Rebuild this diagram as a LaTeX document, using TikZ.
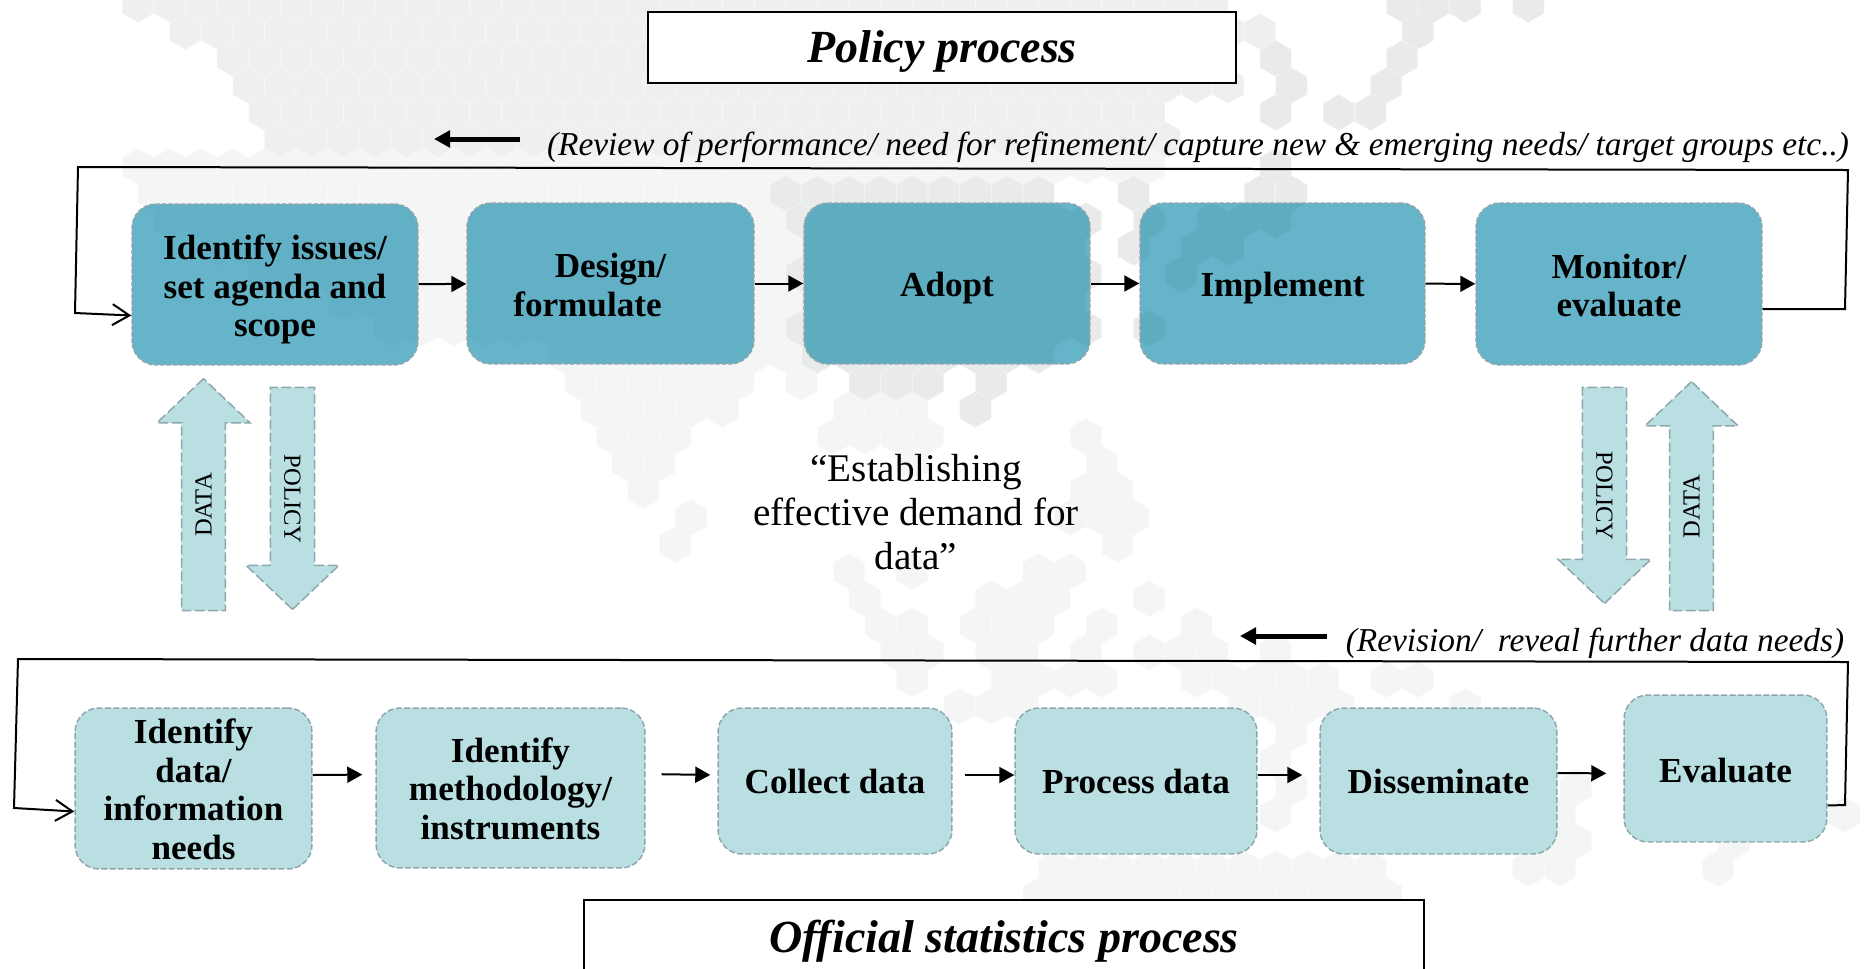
\documentclass[tikz,border=0pt]{standalone}
\usepackage{fontspec}
\setmainfont{Liberation Serif}
\usepackage{xcolor}
\usetikzlibrary{shapes,shapes.arrows,arrows.meta,calc,positioning}

\definecolor{hexdark}{HTML}{E9EBEA}
\definecolor{hexmid}{HTML}{EEF0EF}
\definecolor{hexpale}{HTML}{F4F5F5}
\definecolor{policyblue}{HTML}{0082A5}
\definecolor{statsblue}{HTML}{B9DFE2}
\definecolor{dashgrey}{HTML}{8DA7AC}

% one row/columns list of background cells
\newcommand{\hexrows}[2]{%
	\foreach \r/\cols in {#2} {
		\foreach \c in \cols {
			\pgfmathsetmacro{\hx}{138+31.6*\c+15.8*mod(\r,2)}
			\pgfmathsetmacro{\hy}{4.5+27*\r}
			\filldraw[fill=#1,draw=#1!45!white,line width=.2pt] (\hx,\hy-18) -- ++(15.6,9) -- ++(0,18) -- ++(-15.6,9) -- ++(-15.6,-9) -- ++(0,-18) -- cycle;
		}
	}%
}

\begin{document}
\begin{tikzpicture}[x=0.02cm,y=-0.02cm,arrow/.style = {line width=.04cm,-{Triangle[length=.3cm,width=.32cm]}}]
		\tikzset{lowered/.style={execute at begin node={\rule{0pt}{#1}}}}
		\tikzset{topbox/.style={draw=dashgrey,dash pattern=on 2.6pt off 1pt,line width=.03cm,rounded corners=.48cm,inner sep=0pt,align=center,fill=policyblue,fill opacity=.6,text opacity=1,font=\bfseries\fontsize{20}{21.9}\selectfont}}
		\tikzset{statbox/.style={draw=dashgrey,dash pattern=on 3.4pt off 1.4pt,line width=.03cm,rounded corners=.48cm,inner sep=0pt,align=center,fill=statsblue,font=\bfseries\fontsize{20}{21.9}\selectfont}}
		\tikzset{titlebox/.style={draw=black,line width=.04cm,inner sep=0pt,fill=white,font=\bfseries\itshape\fontsize{26.2}{30}\selectfont}}
		\tikzset{blockarrow/.style={single arrow,draw=dashgrey,dash pattern=on 5.5pt off 2pt,line width=.03cm,fill=statsblue,inner sep=0pt,minimum width=1.86cm,single arrow head extend=.2cm,single arrow tip angle=93,font=\fontsize{14}{16}\selectfont}}
		\tikzset{backline/.style={line width=.04cm,-{Straight Barb[length=.34cm,width=.42cm]}}}
		\tikzset{pointer/.style={line width=.1cm,-{Triangle[length=.32cm,width=.33cm]}}}
		\tikzset{remark/.style={inner sep=0pt,font=\itshape\fontsize{19}{22}\selectfont}}

		\path[use as bounding box,clip] (0,0) rectangle (1864,968);

		% Background cells
		\hexrows{hexmid}{0/{0,...,34},1/{1,...,35},2/{3,...,34},3/{3,...,34},4/{4,...,32},5/{4,...,32}}
		\hexrows{hexpale}{6/{0,...,32},7/{0,...,19},8/{1,...,20},9/{2,...,20},10/{4,...,20},11/{6,...,20},12/{8,...,20},13/{13,...,20},14/{14,...,19,21},15/{14,...,18,22,23,24},16/{15,16,17,22,23,24,25,30},17/{15,16,24,30},18/{16,30,31},19/{17,29,30,31},20/{17,31},21/{22,24,28,29},22/{23,27,28,29,32},23/{23,24,26,27,28,30,33},24/{24,25,27,28,30,32,33,34,36},25/{24,27,28,29,30,33,34,35,36,37,39,40},26/{26,27,28,35,36,37,38,42},27/{36},28/{36},29/{36,45},30/{36,45,54},31/{44,45,50},32/{29,...,39,44,45,50},33/{28,...,39},34/{28,...,40},35/{28,...,39},36/{28,...,40}}
		\hexrows{hexdark}{0/{40,41,42,44},1/{40},2/{36,40},3/{36,39},4/{36,38,39},6/{36},7/{20,...,28,31,35,36},8/{21,...,30,32,34,35,36},9/{21,...,29,31,33,34},10/{21,...,30,33},11/{21,...,29},12/{21,...,30,32},13/{21,...,28},14/{23,24,25,27},15/{26}}

		% Titles
		\node[titlebox,lowered=23.2pt,minimum width=11.76cm,minimum height=1.42cm] (policytitle) at (942,47.5) {Policy process};
		\node[titlebox,lowered=21.8pt,minimum width=16.8cm,minimum height=1.52cm] (statstitle) at (1004,938) {Official statistics process};

		% Policy boxes
		\node[topbox,minimum width=5.72cm,minimum height=3.22cm] (identifyissues) at (275,284.5) {\rule{0pt}{20pt}Identify issues/\\set agenda and\\scope};
		\node[topbox,minimum width=5.74cm,minimum height=3.22cm] (designform) at (610.5,283.5) {\rule{0pt}{15.6pt}Design/\\formulate\hspace*{.92cm}};
		\node[topbox,lowered=19pt,minimum width=5.72cm,minimum height=3.22cm] (adopt) at (947,283.5) {Adopt};
		\node[topbox,lowered=19pt,minimum width=5.7cm,minimum height=3.22cm] (implement) at (1282.5,283.5) {Implement};
		\node[topbox,minimum width=5.72cm,minimum height=3.24cm] (monitor) at (1619,284) {\rule{0pt}{15.6pt}Monitor/\\evaluate};

		% Statistics boxes
		\node[statbox,minimum width=4.74cm,minimum height=3.22cm] (identifydata) at (193.5,788.5) {\rule{0pt}{15pt}Identify\\data/\\information\\needs};
		\node[statbox,minimum width=5.38cm,minimum height=3.2cm] (identifymethod) at (510.5,788) {\rule{0pt}{14.5pt}Identify\\methodology/\\instruments};
		\node[statbox,minimum width=4.68cm,minimum height=2.92cm] (collect) at (835,781) {Collect data};
		\node[statbox,minimum width=4.84cm,minimum height=2.92cm] (process) at (1136,781) {Process data};
		\node[statbox,minimum width=4.74cm,minimum height=2.92cm] (disseminate) at (1438.5,781) {Disseminate};
		\node[statbox,lowered=16.4pt,minimum width=4.06cm,minimum height=2.94cm] (evaluate) at (1725.5,768.5) {Evaluate};

		% Block arrows
		\node[blockarrow,rotate=90,minimum height=4.64cm] (dataleft) at (203.5,505) {DATA};
		\node[blockarrow,rotate=-90,minimum height=4.44cm] (policyleft) at (292.5,488) {\hspace*{.44cm}POLICY};
		\node[blockarrow,rotate=-90,minimum height=4.32cm] (policyright) at (1604.5,485) {\hspace*{.44cm}POLICY};
		\node[blockarrow,rotate=90,minimum height=4.58cm] (dataright) at (1691.5,506.5) {DATA};

		% Remarks
		\node[remark] (reviewnote) at (1198,147.4) {(Review of performance/ need for refinement/ capture new \& emerging needs/ target groups etc..)};
		\node[remark] (revisionnote) at (1595,643.4) {(Revision/\ \ reveal further data needs)};
		\node[align=center,inner sep=0pt,font=\fontsize{22.3}{25}\selectfont] (demand) at (916,512) {“Establishing\\effective demand for\\data”};

		\coordinate (reviewstart) at (520,139);
		\coordinate (reviewend) at (434,139);
		\coordinate (revisionstart) at (1327,636);
		\coordinate (revisionend) at (1240,636);
		\draw [pointer] (reviewstart) -- (reviewend);
		\draw [pointer] (revisionstart) -- (revisionend);

		% Arrows
		\draw [arrow] (identifyissues) -- (designform);
		\draw [arrow] (designform) -- (adopt);
		\draw [arrow] (adopt) -- (implement);
		\draw [arrow] (implement) -- (monitor);

		\draw [arrow,shorten >=.26cm] ([yshift=.27cm]identifydata.east) -- ([yshift=.27cm]identifymethod.west);
		\draw [arrow,shorten <=.32cm,shorten >=.14cm] ([yshift=.28cm]identifymethod.east) -- ([yshift=.12cm]collect.west);
		\draw [arrow,shorten <=.24cm] ([yshift=.12cm]collect.east) -- ([yshift=.12cm]process.west);
		\draw [arrow,shorten >=.34cm] ([yshift=.12cm]process.east) -- ([yshift=.12cm]disseminate.west);
		\draw [arrow,shorten >=.34cm] ([yshift=.16cm]disseminate.east) -- ([yshift=-.1cm]evaluate.west);

		% Feedback lines
		\draw [backline] ([yshift=-.5cm]monitor.east) -- (1845,309) -- (1848,170) -- (78,167) -- (75,313) -- ([yshift=-.62cm]identifyissues.west);
		\draw [backline] ([yshift=-.74cm]evaluate.east) -- (1845,805) -- (1848,662) -- (18,659) -- (14,808) -- ([yshift=-.46cm]identifydata.west);
	\end{tikzpicture}
\end{document}
